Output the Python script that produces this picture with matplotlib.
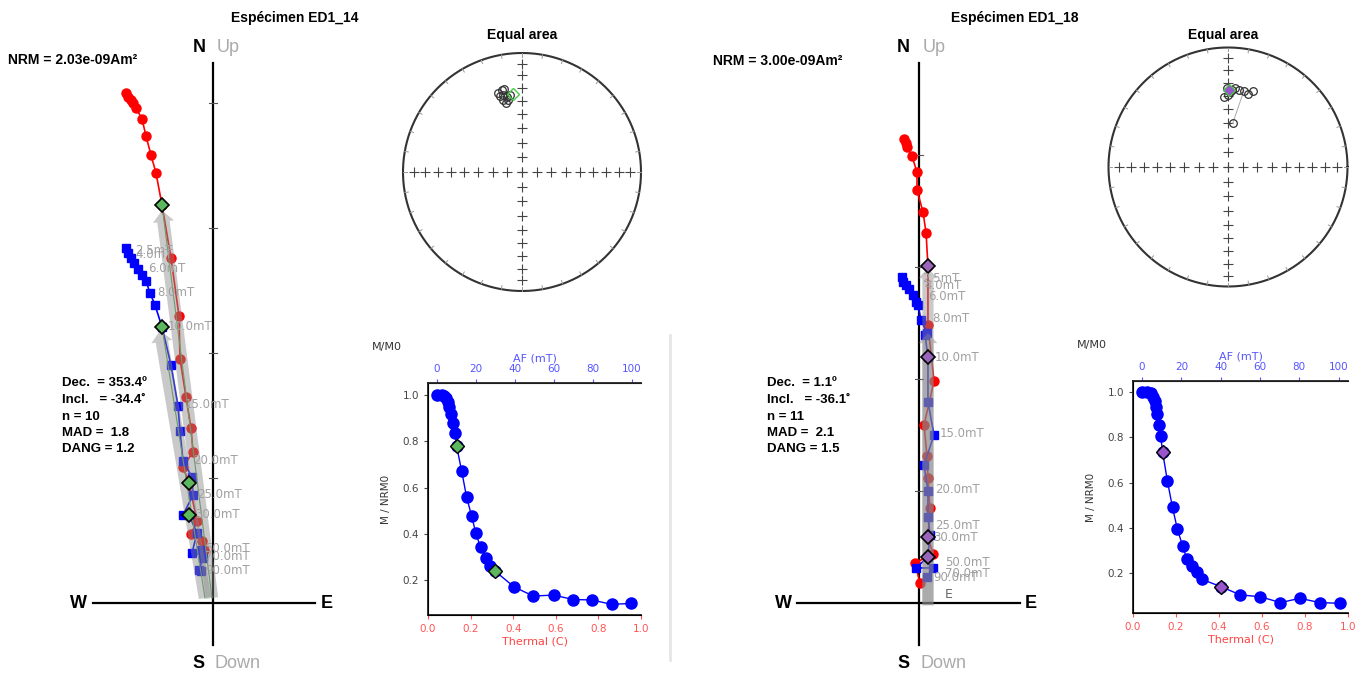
import matplotlib
matplotlib.use('Agg')
import matplotlib.pyplot as plt
from matplotlib.lines import Line2D
import numpy as np

W, H = 1365, 675
plt.rcParams['font.family'] = ['Liberation Sans', 'DejaVu Sans']

# ---------------- data ----------------
# Zijderveld points, in units of one axis tick (origin = axis crossing)
z1_red_x = [-0.696, -0.68, -0.656, -0.64, -0.616, -0.568, -0.536, -0.496, -0.456, -0.408, -0.336, -0.272,
            -0.264, -0.216, -0.176, -0.16, -0.24, -0.192, -0.128, -0.176, -0.088, -0.072]
z1_red_y = [4.08, 4.048, 4.024, 4.0, 3.96, 3.872, 3.736, 3.584, 3.44, 3.184, 2.76, 2.296,
            1.952, 1.648, 1.4, 1.208, 1.088, 0.96, 0.656, 0.552, 0.496, 0.424]
z1_blue_x = [-0.696, -0.68, -0.656, -0.632, -0.6, -0.568, -0.536, -0.504, -0.464, -0.408, -0.336, -0.28,
             -0.264, -0.24, -0.168, -0.16, -0.24, -0.192, -0.128, -0.168, -0.096, -0.08, -0.112, -0.096]
z1_blue_y = [2.84, 2.8, 2.76, 2.72, 2.672, 2.624, 2.576, 2.48, 2.384, 2.208, 1.904, 1.576,
             1.376, 1.136, 1.008, 0.864, 0.704, 0.704, 0.56, 0.4, 0.424, 0.36, 0.264, 0.256]
z1_red_fit = [9, 17]
z1_blue_fit = [9, 17]

z2_red_x = [-0.134, -0.116, -0.107, -0.063, -0.018, -0.018, 0.036, 0.063, 0.080, 0.080, 0.134, 0.045,
            0.071, 0.080, 0.098, 0.080, 0.125, -0.036, 0.009]
z2_red_y = [4.143, 4.107, 4.071, 3.99, 3.848, 3.687, 3.491, 3.304, 3.009, 2.482, 1.982, 1.589,
            1.313, 1.116, 0.848, 0.589, 0.438, 0.357, 0.179]
z2_blue_x = [-0.152, -0.143, -0.116, -0.089, -0.054, -0.027, -0.009, 0.018, 0.071, 0.054, 0.080, 0.080,
             0.134, 0.045, 0.080, 0.080, 0.098, 0.080, -0.027, 0.125, 0.071]
z2_blue_y = [2.911, 2.866, 2.839, 2.804, 2.75, 2.688, 2.661, 2.527, 2.411, 2.393, 2.196, 1.795,
             1.5, 1.232, 1.0, 0.768, 0.607, 0.411, 0.313, 0.313, 0.232]
z2_red_fit = [8, 15]
z2_blue_fit = [10, 17]

step_labels = ['2.5mT', '4.0mT', '6.0mT', '8.0mT', '10.0mT', '15.0mT', '20.0mT', '25.0mT',
               '30.0mT', '50.0mT', '70.0mT', '90.0mT']
z1_lab_x = [-0.624, -0.624, -0.52, -0.448, -0.36, -0.224, -0.16, -0.128, -0.144, -0.064, -0.064, -0.064]
z1_lab_y = [2.824, 2.784, 2.68, 2.48, 2.216, 1.592, 1.144, 0.872, 0.704, 0.432, 0.368, 0.264]
z2_lab_x = [0.027, 0.045, 0.080, 0.116, 0.143, 0.188, 0.143, 0.143, 0.125, 0.232, 0.232, 0.125]
z2_lab_y = [2.893, 2.839, 2.741, 2.536, 2.196, 1.509, 1.009, 0.696, 0.589, 0.366, 0.259, 0.232]

# PCA fit arrows (bottom x, bottom y, top x, top y)
z1_bands = [(-0.008, 0.04, -0.408, 3.14), (-0.064, 0.04, -0.424, 2.18)]
z2_bands = [(0.08, -0.02, 0.08, 2.99), (0.08, -0.02, 0.08, 2.41)]

# equal-area directions (upper hemisphere)
ea1_dec = [343.2, 346.1, 347.8, 343.9, 346.3, 348.4, 349.2, 346.9, 351.1, 345.0]
ea1_inc = [-31.5, -29.7, -29.4, -33.9, -33.8, -36.1, -38.4, -40.5, -34.8, -37.4]
ea2_dec = [6.1, 11.8, 359.1, 356.7, 0.2, 2.8, 5.1, 8.3, 15.5, 17.9, 1.5]
ea2_inc = [-59.8, -35.1, -34.5, -41.2, -39.6, -35.7, -34.3, -35.2, -36.7, -33.3, -37.0]
mean1 = (353.4, -34.4)
mean2 = (1.1, -36.1)

# demagnetisation curves
af1 = [0, 2.4, 3.6, 4.6, 5.5, 6.3, 7.0, 8.4, 9.2, 10.1, 12.7, 15.2, 17.8, 20, 22.4, 25, 27.5, 29.7,
       39.5, 49.4, 60, 69.9, 79.6, 89.7, 99.8]
m1 = [1.0, 1.0, 0.996, 0.986, 0.971, 0.949, 0.916, 0.877, 0.837, 0.779, 0.671, 0.560, 0.477, 0.402,
      0.341, 0.297, 0.261, 0.240, 0.171, 0.131, 0.135, 0.116, 0.114, 0.095, 0.099]
fit1 = [9, 17]
af2 = [0, 2.7, 4.4, 5.8, 6.6, 7.1, 7.8, 8.5, 9.5, 10.5, 12.9, 15.5, 18, 20.6, 22.8, 25.3, 27.9, 30.4,
       40.3, 50, 60.2, 70.4, 80.3, 90.5, 100.5]
m2 = [1.0, 1.0, 0.994, 0.979, 0.960, 0.932, 0.901, 0.854, 0.805, 0.733, 0.607, 0.490, 0.393, 0.321,
      0.262, 0.232, 0.203, 0.172, 0.139, 0.103, 0.095, 0.069, 0.088, 0.069, 0.066]
fit2 = [9, 18]

fig = plt.figure(figsize=(W / 100, H / 100), dpi=100)


def px_axes(left, top, right, bottom, ox, oy, scale):
    ax = fig.add_axes([left / W, 1 - bottom / H, (right - left) / W, (bottom - top) / H])
    ax.set_xlim((left - ox) / scale, (right - ox) / scale)
    ax.set_ylim((oy - bottom) / scale, (oy - top) / scale)
    ax.axis('off')
    return ax


def ftext(x, y, s, **kw):
    kw.setdefault('va', 'center')
    fig.text(x / W, 1 - y / H, s, **kw)


def zijderveld(ax, rx, ry, bx, by, rfit, bfit, lx, ly, bands, vlim, hlim, dcol, line_fit):
    ax.plot([0, 0], vlim, color='black', lw=1.6, zorder=1)
    ax.plot(hlim, [0, 0], color='black', lw=1.6, zorder=1)
    for t in [1, 2, 3, 4]:
        ax.plot([-0.035, 0.035], [t, t], color='#555555', lw=0.8, zorder=1)
    ax.plot(rx, ry, '-o', color='red', ms=6.5, lw=1.2, zorder=3)
    ax.plot(bx, by, '-s', color='blue', ms=5.5, lw=1.2, zorder=3)
    if line_fit:
        ax.plot([rx[rfit[0]], bands[0][0]], [ry[rfit[0]], bands[0][1]], color='#55aa55', lw=0.8, zorder=4)
        ax.plot([bx[bfit[0]], bands[1][0]], [by[bfit[0]], bands[1][1]], color='#55aa55', lw=0.8, zorder=4)
    for x0, y0, x1, y1 in bands:
        ax.arrow(x0, y0, x1 - x0, y1 - y0, width=0.1, head_width=0.17, head_length=0.09,
                 length_includes_head=True, color='#888888', alpha=0.45, lw=0, zorder=5)
    for i in rfit:
        ax.plot(rx[i], ry[i], 'D', color=dcol, mec='black', mew=1.2, ms=7, zorder=6)
    for i in bfit:
        ax.plot(bx[i], by[i], 'D', color=dcol, mec='black', mew=1.2, ms=7, zorder=6)
    for s, x, y in zip(step_labels, lx, ly):
        ax.text(x, y, s, color='#a0a0a0', fontsize=8.5, family='DejaVu Sans', va='center', zorder=7)


def equal_area(ax, dec, inc, mean, mcol, mfill, link):
    t = np.linspace(0, 2 * np.pi, 400)
    ax.plot(np.cos(t), np.sin(t), color='#333333', lw=1.5)
    for a in np.radians(np.arange(0, 360, 10)):
        ax.plot([0.97 * np.sin(a), np.sin(a)], [0.97 * np.cos(a), np.cos(a)], color='#999999', lw=0.7)
    rr = np.sqrt(2) * np.sin(np.radians(np.arange(0, 90, 10)) / 2)
    rr = np.concatenate([-rr[1:][::-1], rr])
    ax.plot(rr, np.zeros_like(rr), '+', color='#444444', ms=7, mew=0.8)
    ax.plot(np.zeros_like(rr), rr, '+', color='#444444', ms=7, mew=0.8)
    d = np.radians(dec)
    r = np.sqrt(2) * np.sin(np.radians(90 - np.abs(np.array(inc))) / 2)
    px, py = r * np.sin(d), r * np.cos(d)
    if link:
        ax.plot(px[:2], py[:2], color='#aaaaaa', lw=0.7)
    ax.plot(px, py, 'o', mfc='none', mec='#333333', ms=5.5, mew=0.9)
    md = np.radians(mean[0])
    mr = np.sqrt(2) * np.sin(np.radians(90 - abs(mean[1])) / 2)
    ax.plot(mr * np.sin(md), mr * np.cos(md), 'D', mfc=mfill, mec=mcol, ms=6, mew=1.0)


def demag(rect, af, m, fit, ylim, dcol):
    ax = fig.add_axes(rect)
    ax.set_xlim(0, 1)
    ax.set_ylim(*ylim)
    ax.spines['right'].set_visible(False)
    ax.set_xticks(np.arange(0, 1.01, 0.2))
    ax.set_yticks([0.2, 0.4, 0.6, 0.8, 1.0])
    ax.tick_params(axis='x', colors='#ff5555', labelsize=7.5, length=3)
    ax.tick_params(axis='y', colors='#444444', labelsize=7.5, length=3)
    for lab in ax.get_xticklabels():
        lab.set_family('DejaVu Sans')
    for lab in ax.get_yticklabels():
        lab.set_family('DejaVu Sans')
    ax.set_xlabel('Thermal (C)', color='#ff4444', fontsize=8, family='DejaVu Sans', labelpad=2)
    ax.set_ylabel('M / NRM0', color='#333333', fontsize=7.5, family='DejaVu Sans', labelpad=8)
    for s in ['left', 'bottom']:
        ax.spines[s].set_color('#222222')
        ax.spines[s].set_linewidth(1.3)
    ax2 = ax.twiny()
    ax2.set_xlim(-4.6, 104.8)
    ax2.set_xticks([0, 20, 40, 60, 80, 100])
    ax2.spines['right'].set_visible(False)
    ax2.spines['top'].set_linewidth(1.3)
    ax2.spines['top'].set_color('#222222')
    ax2.tick_params(axis='x', colors='#5555ff', labelsize=7.5, length=3)
    for lab in ax2.get_xticklabels():
        lab.set_family('DejaVu Sans')
    ax2.set_xlabel('AF (mT)', color='#5555ff', fontsize=8, family='DejaVu Sans', labelpad=2)
    ax2.plot(af, m, '-o', color='blue', ms=8, lw=1.0, alpha=1)
    ax2.plot([af[i] for i in fit], [m[i] for i in fit], 'D', color=dcol, mec='black', mew=1.0, ms=7)


# ---------------- panel 1 ----------------
z1 = px_axes(40, 55, 345, 655, 213, 603, 125)
zijderveld(z1, z1_red_x, z1_red_y, z1_blue_x, z1_blue_y, z1_red_fit, z1_blue_fit,
           z1_lab_x, z1_lab_y, z1_bands, [-0.336, 4.32], [-0.96, 0.816], '#5cb85c', True)
ea1 = px_axes(522 - 126, 172 - 126, 522 + 126, 172 + 126, 522, 172, 119)
equal_area(ea1, ea1_dec, ea1_inc, mean1, '#44cc44', 'none', False)
demag([428 / W, 1 - 615 / H, 213 / W, 232 / H], af1, m1, fit1, (0.049, 1.052), '#5cb85c')

# ---------------- panel 2 ----------------
z2 = px_axes(745, 55, 1050, 655, 919, 603, 112)
zijderveld(z2, z2_red_x, z2_red_y, z2_blue_x, z2_blue_y, z2_red_fit, z2_blue_fit,
           z2_lab_x, z2_lab_y, z2_bands, [-0.375, 4.82], [-1.09, 0.9], '#9966bb', False)
z2.text(0.232, 0.08, 'E', color='#666666', fontsize=9, family='DejaVu Sans', va='center')
ea2 = px_axes(1228 - 126, 167 - 126, 1228 + 126, 167 + 126, 1228, 167, 119.5)
equal_area(ea2, ea2_dec, ea2_inc, mean2, '#55bb55', '#9955cc', True)
demag([1133 / W, 1 - 613 / H, 215 / W, 232 / H], af2, m2, fit2, (0.023, 1.049), '#9955cc')

# ---------------- texts ----------------
for cx, name in [(295, 'Espécimen ED1_14'), (1015, 'Espécimen ED1_18')]:
    ftext(cx, 18, name, ha='center', fontsize=10, weight='bold')
ftext(522, 35, 'Equal area', ha='center', fontsize=10, weight='bold')
ftext(1223, 35, 'Equal area', ha='center', fontsize=10, weight='bold')
ftext(8, 60, 'NRM = 2.03e-09Am²', fontsize=10, weight='bold')
ftext(713, 61, 'NRM = 3.00e-09Am²', fontsize=10, weight='bold')

for nx, ux, wx, ex, sx, dx in [(193, 217, 70, 321, 192, 215), (897, 923, 775, 1025, 897, 920)]:
    ftext(nx, 47, 'N', fontsize=13, weight='bold')
    ftext(ux, 47, 'Up', fontsize=13, color='#aaaaaa')
    ftext(wx, 604, 'W', fontsize=13, weight='bold')
    ftext(ex, 604, 'E', fontsize=13, weight='bold')
    ftext(sx, 663, 'S', fontsize=13, weight='bold')
    ftext(dx, 663, 'Down', fontsize=13, color='#aaaaaa')

stats1 = ['Dec.  = 353.4º', 'Incl.   = -34.4˚', 'n = 10', 'MAD =  1.8', 'DANG = 1.2']
stats2 = ['Dec.  = 1.1º', 'Incl.   = -36.1˚', 'n = 11', 'MAD =  2.1', 'DANG = 1.5']
rows = [383, 400, 417, 433, 449]
for s1, s2, y in zip(stats1, stats2, rows):
    ftext(62, y, s1, fontsize=9.5, weight='bold')
    ftext(767, y, s2, fontsize=9.5, weight='bold')

ftext(372, 347, 'M/M0', fontsize=8, color='#333333', family='DejaVu Sans')
ftext(1077, 345, 'M/M0', fontsize=8, color='#333333', family='DejaVu Sans')

fig.add_artist(Line2D([670 / W, 670 / W], [1 - 660 / H, 1 - 335 / H], color='#e6e6e6', lw=2))

fig.savefig('out.png', dpi=100)
